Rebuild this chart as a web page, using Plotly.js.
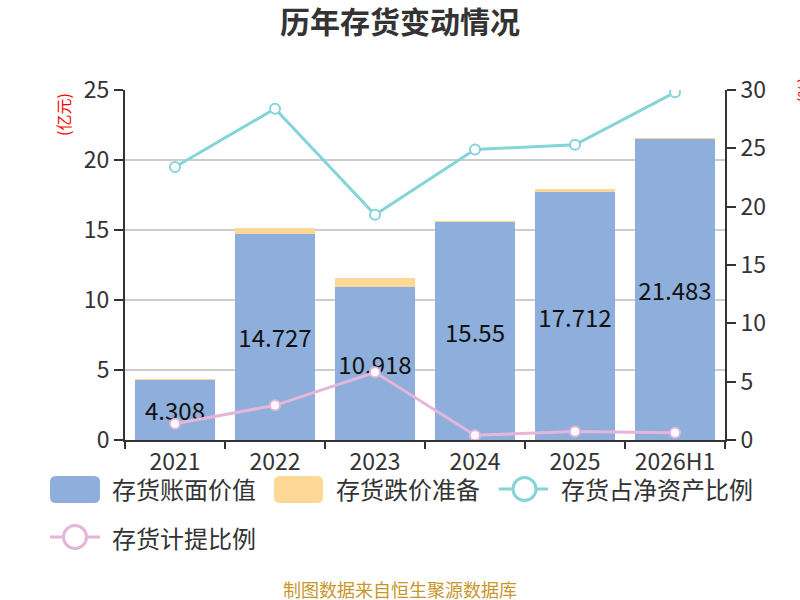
<!DOCTYPE html>
<html>
<head>
<meta charset="utf-8">
<script src="https://cdn.plot.ly/plotly-3.0.1.min.js"></script>
<style>html,body{margin:0;padding:0;background:#fff;}#chart{width:800px;height:600px;}</style>
</head>
<body>
<div id="chart"></div>
<script>
const categories = ["2021", "2022", "2023", "2024", "2025", "2026H1"];
const bookValue = [4.308, 14.727, 10.918, 15.55, 17.712, 21.483];
const impairmentReserve = [0.03, 0.43, 0.66, 0.1, 0.2, 0.12];
const ratioToNetAssets = [23.4, 28.4, 19.3, 24.9, 25.3, 29.8];
const provisionRatio = [1.39, 2.97, 5.8, 0.4, 0.72, 0.63];
const seriesNames = ["存货账面价值", "存货跌价准备", "存货占净资产比例", "存货计提比例"];

const FONT = '"Noto Sans CJK SC", "Noto Sans", sans-serif';
const cBlue = '#8EAEDB', cOrange = '#FFD898', cCyan = '#85D5D8', cPink = '#E6B6DA';

const traces = [
  {
    type: 'bar', x: categories, y: bookValue, name: seriesNames[0],
    marker: {color: cBlue},
    text: bookValue.map(String), textposition: 'inside', insidetextanchor: 'middle',
    textfont: {family: FONT, size: 24, color: '#111'}, constraintext: 'none',
    hoverinfo: 'x+y'
  },
  {
    type: 'bar', x: categories, y: impairmentReserve, name: seriesNames[1],
    marker: {color: cOrange}, hoverinfo: 'x+y'
  },
  {
    type: 'scatter', mode: 'lines+markers', x: categories, y: ratioToNetAssets, yaxis: 'y2',
    name: seriesNames[2], line: {color: cCyan, width: 3},
    marker: {size: 10, color: '#fff', line: {color: cCyan, width: 2}}
  },
  {
    type: 'scatter', mode: 'lines+markers', x: categories, y: provisionRatio, yaxis: 'y2',
    name: seriesNames[3], line: {color: cPink, width: 3},
    marker: {size: 10, color: '#fff', line: {color: cPink, width: 2}}
  }
];

// custom legend (shapes + annotations in paper/pixel positions)
const W = 600, H = 350, L = 125, T = 90;
const px = x => (x - L) / W;
const py = y => 1 - (y - T) / H;
function roundRect(x0, y0, x1, y1, r) {
  const X = v => px(v), Y = v => py(v);
  return `M${X(x0 + r)},${Y(y0)} L${X(x1 - r)},${Y(y0)} Q${X(x1)},${Y(y0)} ${X(x1)},${Y(y0 + r)} ` +
         `L${X(x1)},${Y(y1 - r)} Q${X(x1)},${Y(y1)} ${X(x1 - r)},${Y(y1)} L${X(x0 + r)},${Y(y1)} ` +
         `Q${X(x0)},${Y(y1)} ${X(x0)},${Y(y1 - r)} L${X(x0)},${Y(y0 + r)} Q${X(x0)},${Y(y0)} ${X(x0 + r)},${Y(y0)} Z`;
}
const legendShapes = [
  {type: 'path', xref: 'paper', yref: 'paper',
   path: roundRect(50, 476, 100, 503, 6), fillcolor: cBlue, line: {width: 0}},
  {type: 'path', xref: 'paper', yref: 'paper',
   path: roundRect(274, 476, 323, 503, 6), fillcolor: cOrange, line: {width: 0}},
  {type: 'line', xref: 'paper', yref: 'paper', x0: px(499), x1: px(548), y0: py(489), y1: py(489), line: {color: cCyan, width: 3}},
  {type: 'circle', xref: 'paper', yref: 'paper', x0: px(513), x1: px(536), y0: py(477.5), y1: py(500.5), fillcolor: '#fff', line: {color: cCyan, width: 3}},
  {type: 'line', xref: 'paper', yref: 'paper', x0: px(50), x1: px(100), y0: py(537), y1: py(537), line: {color: cPink, width: 3}},
  {type: 'circle', xref: 'paper', yref: 'paper', x0: px(63.5), x1: px(86.5), y0: py(525.5), y1: py(548.5), fillcolor: '#fff', line: {color: cPink, width: 3}}
];
const legendPos = [[110, 489], [334, 489], [559, 489], [110, 537]];
const legendAnn = seriesNames.map((n, i) => ({
  xref: 'paper', yref: 'paper', x: px(legendPos[i][0]), y: py(legendPos[i][1]),
  xanchor: 'left', yanchor: 'middle', showarrow: false, text: n,
  font: {family: FONT, size: 24, color: '#333'}
}));

const layout = {
  width: 800, height: 600,
  margin: {l: 125, r: 75, t: 90, b: 160},
  paper_bgcolor: '#fff', plot_bgcolor: '#fff',
  barmode: 'stack', bargap: 0.2,
  showlegend: false,
  font: {family: FONT, color: '#333'},
  title: {text: '<b>历年存货变动情况</b>', x: 0.5, xanchor: 'center', y: 0.962, yanchor: 'middle',
          font: {family: FONT, size: 30, color: '#333'}},
  xaxis: {
    type: 'category', showgrid: false, showline: true, linecolor: '#333', linewidth: 2,
    ticks: 'outside', tickson: 'boundaries', ticklen: 7, tickcolor: '#333', tickwidth: 2,
    tickfont: {family: FONT, size: 23, color: '#333'}, fixedrange: true
  },
  yaxis: {
    range: [0, 25], dtick: 5, showgrid: true, gridcolor: '#cccccc', gridwidth: 2,
    showline: true, linecolor: '#333', linewidth: 2, ticks: 'outside', ticklen: 9,
    tickcolor: '#333', tickwidth: 2, zeroline: false,
    tickfont: {family: FONT, size: 23, color: '#333'}
  },
  yaxis2: {
    overlaying: 'y', side: 'right', range: [0, 30], dtick: 5, showgrid: false,
    showline: true, linecolor: '#333', linewidth: 2, ticks: 'outside', ticklen: 9,
    tickcolor: '#333', tickwidth: 2, zeroline: false,
    tickfont: {family: FONT, size: 23, color: '#333'}
  },
  shapes: legendShapes,
  annotations: [
    {xref: 'paper', yref: 'paper', x: px(63), y: py(115), xanchor: 'center', yanchor: 'middle',
     showarrow: false, text: '(亿元)', textangle: -90, font: {family: FONT, size: 16, color: '#ff0000'}},
    {xref: 'paper', yref: 'paper', x: px(803), y: py(90), xanchor: 'center', yanchor: 'middle',
     showarrow: false, text: '(%)', textangle: -90, font: {family: FONT, size: 16, color: '#ff0000'}},
    {xref: 'paper', yref: 'paper', x: px(400), y: py(589), xanchor: 'center', yanchor: 'middle',
     showarrow: false, text: '制图数据来自恒生聚源数据库', font: {family: FONT, size: 18, color: '#C8962A'}}
  ].concat(legendAnn)
};

Plotly.newPlot('chart', traces, layout, {displayModeBar: false, staticPlot: true});
</script>
</body>
</html>
